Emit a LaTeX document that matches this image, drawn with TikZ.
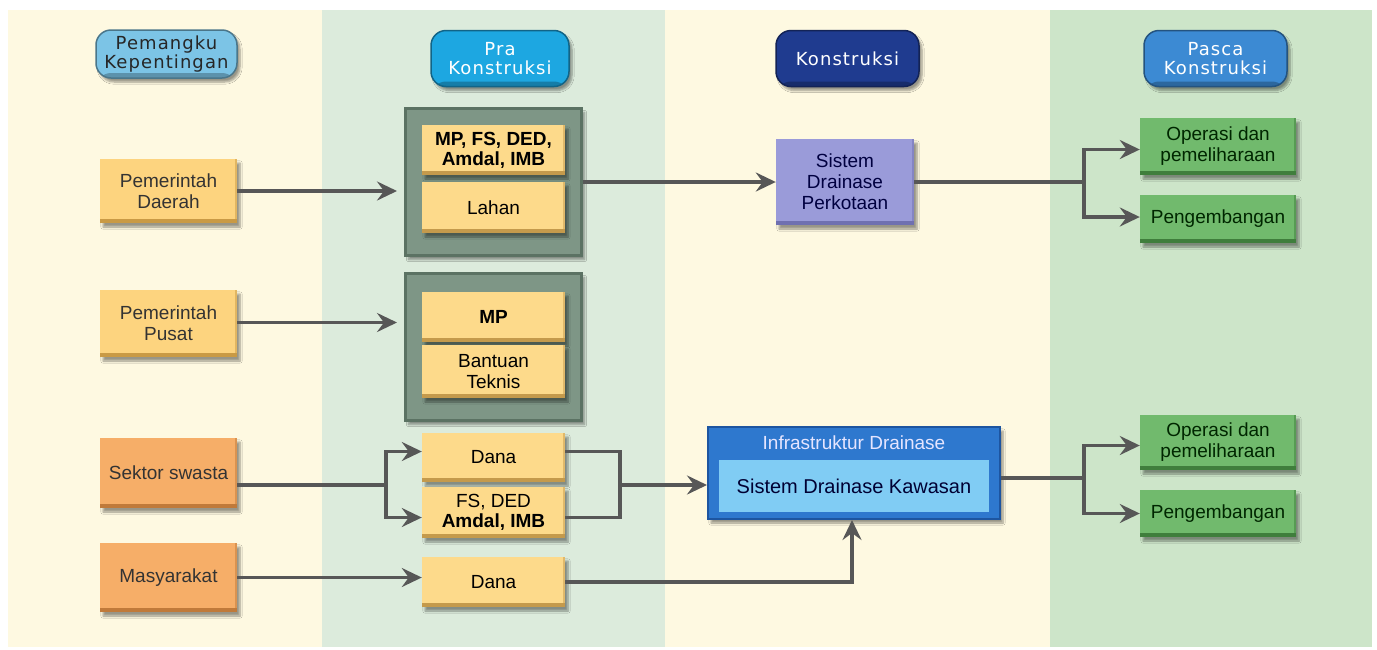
\documentclass[tikz,border=0pt]{standalone}
\usepackage{fontspec}
\setmainfont{Liberation Sans}
\newfontfamily\hdrfont[LetterSpace=6]{DejaVu Sans}
\usetikzlibrary{arrows.meta,shadows.blur,calc}

\definecolor{creamcol}{HTML}{FEF9E1}
\definecolor{sagecol}{HTML}{DCEBDC}
\definecolor{mintcol}{HTML}{CDE5C9}
\definecolor{hdrA}{HTML}{7CC4E6}
\definecolor{hdrB}{HTML}{1DA7E1}
\definecolor{hdrC}{HTML}{1F3B8F}
\definecolor{hdrD}{HTML}{3C8AD3}
\definecolor{sandfill}{HTML}{FDD47F}
\definecolor{sandedge}{HTML}{C99A45}
\definecolor{orangefill}{HTML}{F6AE68}
\definecolor{orangeedge}{HTML}{C07A3A}
\definecolor{paleY}{HTML}{FDDA8B}
\definecolor{paleYedge}{HTML}{C49A4C}
\definecolor{frame}{HTML}{7E9686}
\definecolor{frameedge}{HTML}{5B7263}
\definecolor{lav}{HTML}{9A9BD9}
\definecolor{lavedge}{HTML}{6F70B0}
\definecolor{leaf}{HTML}{71BA6D}
\definecolor{leafedge}{HTML}{3F7E3C}
\definecolor{infra}{HTML}{2E78CE}
\definecolor{infraedge}{HTML}{1D55A0}
\definecolor{sky}{HTML}{80CCF4}
\definecolor{wire}{HTML}{575757}
\definecolor{ink}{HTML}{333333}

\tikzset{
  softshadow/.style={blur shadow={shadow xshift=3pt, shadow yshift=-4pt,
      shadow blur steps=6, shadow opacity=40}},
  bevel/.style={path picture={
      \fill[#1] ([yshift=4pt]path picture bounding box.south west)
                rectangle (path picture bounding box.south east);
      \fill[#1,opacity=0.5] ([xshift=-2pt]path picture bounding box.north east)
                rectangle (path picture bounding box.south east);}},
  flatbox/.style={rectangle, inner sep=2pt, align=center, softshadow,
      font=\fontsize{19}{21}\selectfont, text=ink},
  sandbox/.style={flatbox, fill=sandfill, bevel=sandedge},
  orangebox/.style={flatbox, fill=orangefill, bevel=orangeedge},
  itembox/.style={flatbox, fill=paleY, bevel=paleYedge,
      minimum width=143pt, text=black},
  framebox/.style={rectangle, fill=frame, draw=frameedge, line width=3pt,
      minimum width=176pt, minimum height=147pt, softshadow},
  leafbox/.style={flatbox, fill=leaf, bevel=leafedge, text=black!85!green,
      minimum width=156pt},
  header/.style={rectangle, rounded corners=15pt, align=center, inner sep=2pt,
      minimum width=141pt, minimum height=56pt, softshadow,
      font=\hdrfont\fontsize{18}{19}\selectfont, fill=#1, draw=#1!60!black,
      line width=1.5pt,
      path picture={\fill[black,opacity=0.25]
          ([yshift=5pt]path picture bounding box.south west)
          rectangle (path picture bounding box.south east);}},
  conn/.style={draw=wire, line width=3.2pt},
  thick conn/.style={draw=wire, line width=4.5pt},
  arr/.style={-{Stealth[length=20pt,width=19pt,inset=7pt]}},
  heavy/.style={font=\bfseries\fontsize{19}{20}\selectfont},
}

\begin{document}
\begin{tikzpicture}[x=1pt,y=-1pt]
  % canvas and the four phase columns
  \fill[white] (0,0) rectangle (1377,649);
  \useasboundingbox (0,0) rectangle (1377,649);
  \fill[creamcol] (8,10) rectangle (322,647);
  \fill[sagecol]  (322,10) rectangle (665,647);
  \fill[creamcol] (665,10) rectangle (1050,647);
  \fill[mintcol]  (1050,10) rectangle (1372,647);

  % column headers
  \node[header=hdrA, text=black!85, minimum height=48pt] (h1) at (166.5,54) {Pemangku\\Kepentingan};
  \node[header=hdrB, text=white, minimum width=138pt] (h2) at (500,58.5) {Pra\\Konstruksi};
  \node[header=hdrC, text=white, minimum width=143pt] (h3) at (847.5,58.5) {Konstruksi};
  \node[header=hdrD, text=white, minimum width=143pt] (h4) at (1215.5,58.5) {Pasca\\Konstruksi};

  % stakeholders
  \node[sandbox, minimum width=137pt, minimum height=64pt] (pd) at (168.5,191) {Pemerintah\\Daerah};
  \node[sandbox, minimum width=137pt, minimum height=67pt] (pp) at (168.5,323.5) {Pemerintah\\Pusat};
  \node[orangebox, minimum width=137pt, minimum height=70pt] (ss) at (168.5,473) {Sektor swasta};
  \node[orangebox, minimum width=137pt, minimum height=69pt] (ms) at (168.5,577.5) {Masyarakat};

  % pre-construction groups
  \node[framebox] (g1) at (493.5,182) {};
  \node[framebox] (g2) at (493.5,347) {};
  \node[itembox, minimum height=50pt, heavy] (a1) at (493.5,150) {MP, FS, DED,\\Amdal, IMB};
  \node[itembox, minimum height=51pt] (a2) at (493.5,207.5) {Lahan};
  \node[itembox, minimum height=50pt, heavy] (b1) at (493.5,317) {MP};
  \node[itembox, minimum height=53pt] (b2) at (493.5,371.5) {Bantuan\\Teknis};
  \node[itembox, minimum height=49pt] (c1) at (493.5,457.5) {Dana};
  \node[itembox, minimum height=51pt, font=\fontsize{19}{20}\selectfont] (c2) at (493.5,512.5) {FS, DED\\\textbf{Amdal, IMB}};
  \node[itembox, minimum height=50pt] (c3) at (493.5,582) {Dana};

  % construction
  \node[flatbox, fill=lav, bevel=lavedge, text=black!75!blue, minimum width=138pt, minimum height=86pt] (sdp) at (845,182) {Sistem\\Drainase\\Perkotaan};
  \node[rectangle, fill=infra, draw=infraedge, line width=2pt, minimum width=292pt, minimum height=92pt, softshadow] (infra) at (854,473) {};
  \node[rectangle, fill=sky, minimum width=270pt, minimum height=52pt, inner sep=0pt,
        font=\fontsize{20}{22}\selectfont, text=black!80!blue] (sdk) at (854,486) {Sistem Drainase Kawasan};
  \node[font=\fontsize{19}{20}\selectfont, text=white!90!blue, anchor=center] (infratitle) at (854,443) {Infrastruktur Drainase};

  % post-construction
  \node[leafbox, minimum height=57pt] (o1) at (1218,146.5) {Operasi dan\\pemeliharaan};
  \node[leafbox, minimum height=48pt] (o2) at (1218,219) {Pengembangan};
  \node[leafbox, minimum height=55pt] (o3) at (1218,442.5) {Operasi dan\\pemeliharaan};
  \node[leafbox, minimum height=47pt] (o4) at (1218,513.5) {Pengembangan};

  % junction points
  \coordinate (j1) at (1084,182);
  \coordinate (j2) at (386,485);
  \coordinate (j3) at (620,485);
  \coordinate (j4) at (1084,478);

  % connectors
  \draw[thick conn, arr, shorten >=7pt] (pd.east) -- (pd.east -| g1.west);
  \draw[conn, arr, shorten >=7pt] ([yshift=1pt]pp.east) -- ([yshift=1pt]pp.east -| g2.west);
  \draw[thick conn, arr] (g1.east) -- (sdp.west);
  \draw[conn] (sdp.east) -- (j1);
  \draw[conn, arr] (j1) |- ([yshift=-3pt]o1.west);
  \draw[conn, arr] (j1) |- ([yshift=2pt]o2.west);

  \draw[thick conn] ([yshift=-12pt]ss.east) -- (j2);
  \draw[conn, arr] (j2) |- ([yshift=6pt]c1.west);
  \draw[conn, arr] (j2) |- ([yshift=-5pt]c2.west);
  \draw[conn] ([yshift=6pt]c1.east) -| (j3) |- ([yshift=-5pt]c2.east);
  \draw[conn, arr] (j3) -- (j3 -| infra.west);

  \draw[conn, arr] (ms.east) -- (ms.east -| c3.west);
  \draw[conn, arr] (c3.east) -| ([xshift=-2pt]infra.south);

  \draw[conn] ([yshift=-5pt]infra.east) -- (j4);
  \draw[conn, arr] (j4) |- ([yshift=-3pt]o3.west);
  \draw[conn, arr] (j4) |- (o4.west);
\end{tikzpicture}
\end{document}
